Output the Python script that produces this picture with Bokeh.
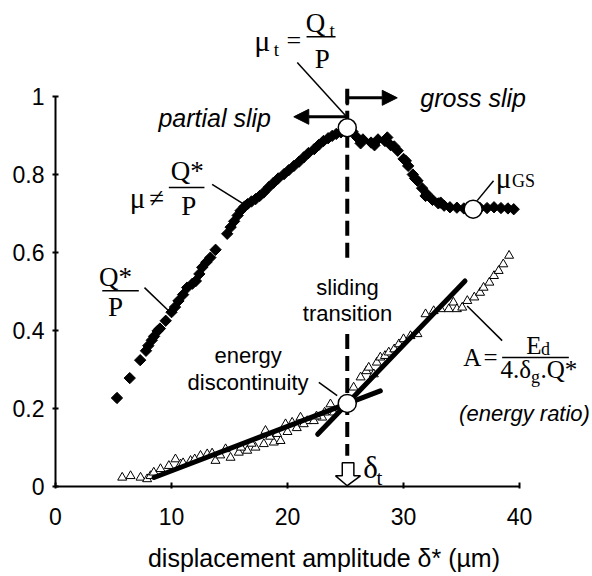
import numpy as np
from bokeh.plotting import figure
from bokeh.models import Range1d, FixedTicker, Label, Arrow, NormalHead, TeeHead
from bokeh.embed import file_html
from bokeh.resources import INLINE

SANS = "Liberation Sans"
SERIF = "Liberation Serif"

# ---------------- data ----------------
x_ticks = [0, 10, 20, 30, 40]
y_ticks = [0, 0.2, 0.4, 0.6, 0.8, 1.0]
y_tick_labels = ["0", "0.2", "0.4", "0.6", "0.8", "1"]

# friction ratio Q*/P (filled diamonds)
qp_x = [5.3, 6.4, 7.3, 7.8, 8.0, 8.3, 8.5, 8.8, 9.0, 9.5, 10.0, 10.3, 10.6, 11.0, 11.35,
        11.8, 12.1, 12.4, 12.65, 13.0, 13.35, 13.8, 14.8, 15.1, 15.4, 15.7, 15.95, 16.3,
        16.55, 16.9, 17.25, 17.6, 17.95, 18.4, 18.8, 19.2, 19.7, 20.1, 20.55, 21.0, 21.4,
        21.8, 22.3, 22.7, 23.1, 23.5, 23.85, 24.2, 24.6, 25.0, 25.6, 26.0, 26.5, 27.2,
        27.8, 28.4, 28.9, 29.5, 30.0, 30.4, 30.8, 31.2, 31.6, 32.0, 32.5, 33.0, 33.5,
        34.0, 34.6, 35.2, 36.6, 37.2, 37.8, 38.4, 39.0, 39.5,
        26.3, 27.5, 28.6, 29.2, 30.2, 31.0, 31.9, 33.2, 35.8]
qp_y = [0.227, 0.278, 0.324, 0.348, 0.361, 0.375, 0.385, 0.399, 0.405, 0.425, 0.447, 0.46,
        0.476, 0.492, 0.51, 0.52, 0.527, 0.545, 0.562, 0.575, 0.587, 0.607, 0.648, 0.665,
        0.68, 0.695, 0.707, 0.718, 0.724, 0.731, 0.737, 0.745, 0.754, 0.768, 0.779, 0.79,
        0.801, 0.811, 0.822, 0.833, 0.844, 0.855, 0.865, 0.876, 0.886, 0.893, 0.899, 0.904,
        0.908, 0.915, 0.91, 0.895, 0.89, 0.882, 0.89, 0.886, 0.875, 0.861, 0.84, 0.822,
        0.80, 0.784, 0.765, 0.75, 0.735, 0.726, 0.72, 0.716, 0.715, 0.713, 0.714, 0.714,
        0.716, 0.714, 0.713, 0.711,
        0.88, 0.875, 0.895, 0.872, 0.835, 0.79, 0.745, 0.728, 0.716]

# energy ratio A (open triangles)
a_x = [5.75, 6.47, 7.33, 7.9, 8.19, 8.47, 9.05, 9.77, 10.34, 10.78, 11.64, 12.5, 13.08,
       13.79, 14.66, 15.09, 15.8, 16.53, 17.24, 17.96, 18.1, 18.82, 19.4, 19.83, 20.4,
       21.12, 21.7, 22.27, 22.99, 23.7, 24.0, 25.7, 26.3, 26.8, 27.0, 27.44, 27.7, 28.0,
       28.4, 28.73, 29.2, 29.6, 30.0, 30.6, 31.2, 31.9, 32.6, 33.2, 33.9, 34.3, 34.6,
       35.06, 35.5, 36.1, 36.6, 36.9, 37.4, 37.8, 38.2, 38.6, 39.1,
       11.0, 12.0, 13.5, 14.2, 16.0, 16.9, 18.5, 19.1, 20.0, 20.8, 21.4, 22.5, 23.2, 24.5]
a_y = [0.023, 0.027, 0.023, 0.019, 0.027, 0.036, 0.045, 0.053, 0.070, 0.057, 0.066, 0.079,
       0.083, 0.066, 0.096, 0.074, 0.087, 0.092, 0.100, 0.109, 0.143, 0.113, 0.117, 0.160,
       0.164, 0.177, 0.168, 0.168, 0.177, 0.211, 0.190, 0.254, 0.280, 0.296, 0.305, 0.288,
       0.318, 0.331, 0.335, 0.344, 0.352, 0.365, 0.378, 0.386, 0.391, 0.442, 0.450, 0.455,
       0.455, 0.472, 0.455, 0.459, 0.476, 0.485, 0.497, 0.510, 0.523, 0.540, 0.553, 0.570,
       0.592,
       0.060, 0.070, 0.085, 0.080, 0.100, 0.110, 0.128, 0.135, 0.140, 0.150, 0.160, 0.180,
       0.190, 0.200]

# linear fits of the energy ratio (partial slip / gross slip)
fit_ps_x = [8.5, 28.0]
fit_ps_y = [0.023, 0.245]
fit_gs_x = [22.6, 35.3]
fit_gs_y = [0.134, 0.527]

# key points (transition, gross slip friction, energy discontinuity)
key_x = [25.15, 36.0, 25.15]
key_y = [0.92, 0.711, 0.213]

delta_t = 25.15

# ---------------- figure ----------------
p = figure(width=592, height=576, x_range=Range1d(0, 46.29), y_range=Range1d(0, 1.2462),
           output_backend="svg", toolbar_location=None,
           min_border_left=55, min_border_right=0, min_border_top=0, min_border_bottom=90)
p.outline_line_color = None
p.grid.visible = False
p.background_fill_color = "white"

p.xaxis.bounds = (0, 40)
p.yaxis.bounds = (0, 1)
p.xaxis.ticker = FixedTicker(ticks=x_ticks)
p.yaxis.ticker = FixedTicker(ticks=y_ticks)
p.yaxis.major_label_overrides = {v: l for v, l in zip(y_ticks, y_tick_labels)}
p.axis.minor_tick_line_color = None
p.axis.axis_line_width = 2
p.axis.major_tick_line_width = 2
p.axis.major_label_text_font = SANS
p.axis.major_label_text_font_size = "23px"
p.axis.major_label_text_color = "black"
p.xaxis.major_tick_in = 4
p.xaxis.major_tick_out = 2
p.yaxis.major_tick_in = 3
p.yaxis.major_tick_out = 3
p.xaxis.major_label_standoff = 19
p.yaxis.major_label_standoff = 8
p.xaxis.axis_label = "displacement amplitude δ* (µm)"
p.xaxis.axis_label_text_font = SANS
p.xaxis.axis_label_text_font_size = "25px"
p.xaxis.axis_label_text_font_style = "normal"
p.xaxis.axis_label_text_color = "black"
p.xaxis.axis_label_standoff = 16

# ---------------- marks ----------------
p.scatter(a_x, a_y, marker="triangle", size=9, fill_color="white", line_color="black",
          line_width=1)
p.line(fit_ps_x, fit_ps_y, line_width=5, line_color="black", line_cap="round")
p.line(fit_gs_x, fit_gs_y, line_width=5, line_color="black", line_cap="round")
p.scatter(qp_x, qp_y, marker="square", angle=np.pi / 4, size=8, fill_color="black",
          line_color="black")

# dashed transition line (interrupted by the text)
p.segment(x0=[delta_t, delta_t], y0=[1.02, 0.391], x1=[delta_t, delta_t], y1=[0.573, 0.079],
          line_width=4, line_color="black", line_dash="15 7")

p.scatter(key_x, key_y, marker="circle", size=18, fill_color="white", line_color="black",
          line_width=1.5)

# ---------------- annotations ----------------
def txt(x, y, s, size, font=SANS, style="normal", align="center", base="middle"):
    p.add_layout(Label(x=x, y=y, text=s, text_font=font, text_font_size=f"{size}px",
                       text_font_style=style, text_align=align, text_baseline=base,
                       text_color="black"))

def seg(x0, y0, x1, y1, w=1.5):
    p.segment(x0=[x0], y0=[y0], x1=[x1], y1=[y1], line_width=w, line_color="black")

# arrows partial / gross slip
p.add_layout(Arrow(end=NormalHead(size=15, fill_color="black", line_color="black"),
                   start=TeeHead(size=15, line_width=3, line_color="black"),
                   x_start=delta_t, y_start=0.9967, x_end=29.46, y_end=0.9967,
                   line_width=3, line_color="black"))
p.add_layout(Arrow(end=NormalHead(size=15, fill_color="black", line_color="black"),
                   x_start=delta_t, y_start=0.948, x_end=20.54, y_end=0.948,
                   line_width=3, line_color="black"))
txt(13.72, 0.946, "partial slip", 25, style="italic")
txt(36.0, 0.997, "gross slip", 25, style="italic")

# mu_t = Q_t / P
txt(17.82, 1.1428, "μ", 30, font=SERIF)
txt(19.05, 1.1200, "t", 19, font=SERIF)
txt(20.54, 1.1428, "=", 26, font=SERIF)
seg(21.64, 1.1531, 24.14, 1.1531, 1.5)
txt(22.41, 1.1897, "Q", 27, font=SERIF)
txt(23.85, 1.1700, "t", 19, font=SERIF)
txt(22.99, 1.0959, "P", 27, font=SERIF)
seg(20.84, 1.087, 25.15, 0.946)

# Q*/P
txt(5.17, 0.536, "Q*", 27, font=SERIF)
seg(4.03, 0.502, 7.18, 0.502, 1.5)
txt(5.17, 0.459, "P", 27, font=SERIF)
seg(7.67, 0.510, 9.77, 0.45)

# mu != Q*/P
txt(7.07, 0.741, "μ", 29, font=SERIF)
txt(8.71, 0.741, "≠", 27, font=SERIF)
seg(9.77, 0.767, 12.84, 0.767, 1.5)
txt(11.35, 0.8095, "Q*", 27, font=SERIF)
txt(11.49, 0.719, "P", 27, font=SERIF)
seg(13.5, 0.775, 16.23, 0.724)

# mu_GS
txt(38.62, 0.792, "μ", 29, font=SERIF)
txt(40.34, 0.784, "GS", 18, font=SERIF)
seg(37.76, 0.784, 36.35, 0.733)

# sliding transition
txt(25.17, 0.510, "sliding", 22)
txt(25.17, 0.443, "transition", 22)

# energy discontinuity
txt(16.6, 0.335, "energy", 22)
txt(16.6, 0.267, "discontinuity", 22)
seg(22.70, 0.267, 24.28, 0.233)

# A = Ed / (4.δg.Q*)
txt(35.92, 0.331, "A", 25, font=SERIF)
txt(37.5, 0.331, "=", 25, font=SERIF)
seg(38.5, 0.331, 44.25, 0.331, 1.5)
txt(41.23, 0.361, "E", 25, font=SERIF)
txt(42.24, 0.352, "d", 18, font=SERIF)
txt(41.0, 0.301, "4.δ", 25, font=SERIF, align="right")
txt(41.38, 0.28, "g", 18, font=SERIF)
txt(41.8, 0.301, ".Q*", 25, font=SERIF, align="left")
seg(35.49, 0.463, 38.5, 0.374)
txt(40.43, 0.187, "(energy ratio)", 22, style="italic")

# delta_t hollow arrow
p.patch([24.72, 25.72, 25.72, 26.29, delta_t, 24.14, 24.72],
        [0.0608, 0.0608, 0.0274, 0.0274, 0.002, 0.0274, 0.0274],
        fill_color="white", line_color="black", line_width=1.5)
txt(27.16, 0.0487, "δ", 31, font=SERIF)
txt(27.93, 0.023, "t", 21, font=SERIF)

open("out.html", "w").write(file_html(p, INLINE))
